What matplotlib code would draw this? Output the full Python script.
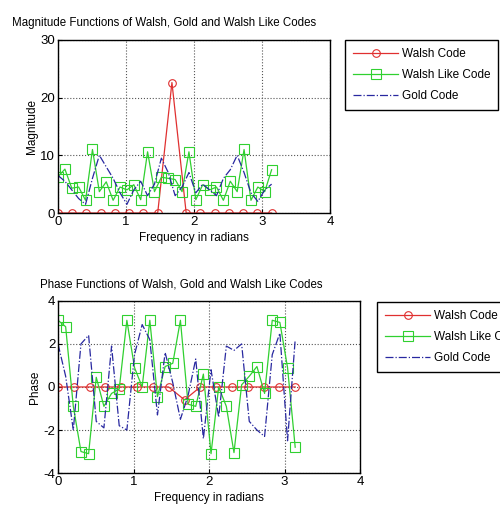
import numpy as np
import matplotlib.pyplot as plt

# ------ DATA ------

# Walsh code: 16 frequency bins, Walsh like / Gold codes: 32 bins over [0, pi]
w_freq = np.linspace(0, np.pi, 16)
c_freq = np.linspace(0, np.pi, 32)

walsh_mag = [0, 0, 0, 0, 0, 0, 0, 0, 22.6, 0, 0, 0, 0, 0, 0, 0]
walsh_like_mag = [6.3, 7.6, 4.3, 4.5, 2.2, 11.0, 3.7, 5.4, 2.2, 4.5, 4.0,
                  4.9, 2.3, 10.6, 3.7, 6.2, 6.0, 5.8, 3.7, 10.6, 2.3, 4.9,
                  4.0, 4.5, 2.2, 5.5, 3.7, 11.0, 2.2, 4.5, 3.7, 7.5]
gold_mag = [6.5, 5.5, 4.0, 2.5, 1.5, 6.0, 10.0, 8.0, 6.0, 3.5, 1.5,
            4.0, 5.5, 3.0, 5.0, 9.5, 7.0, 3.0, 4.5, 7.0, 3.5, 5.0,
            4.0, 3.0, 6.0, 7.5, 10.0, 7.0, 3.5, 2.0, 4.0, 5.0]

walsh_phase = [0, 0, 0, 0, 0, 0, 0, 0, -0.6, 0, 0, 0, 0, 0, 0, 0]
walsh_like_phase = [3.1, 2.8, -0.9, -3.0, -3.1, 0.45, -0.9, -0.3, -0.1, 3.1,
                    0.9, 0.0, 3.1, -0.45, 0.95, 1.1, 3.1, -0.8, -0.9, 0.6,
                    -3.1, 0.0, -0.9, -3.05, 0.1, 0.5, 0.95, -0.3, 3.1, 3.0,
                    0.9, -2.8]
gold_phase = [2.0, 0.5, -2.0, 2.0, 2.4, -1.6, -1.9, 1.9, -1.8, -2.0, 1.5,
              2.9, 2.2, -1.3, 1.6, 0.2, -1.5, -0.4, 1.3, -2.4, 0.8, -1.4,
              1.9, 1.7, 2.0, -1.6, -2.0, -2.3, 1.5, 2.5, -2.5, 2.2]

labels = ['Walsh Code', 'Walsh Like Code', 'Gold Code']

# ------ PLOT ------

plt.rcParams['font.family'] = ['Liberation Sans', 'DejaVu Sans']
plt.rcParams['font.size'] = 8
plt.rcParams['axes.unicode_minus'] = False

fig = plt.figure(figsize=(5.0, 5.17), dpi=100)
ax1 = fig.add_axes([0.116, 0.588, 0.544, 0.335])
ax2 = fig.add_axes([0.116, 0.085, 0.604, 0.333])


def draw(ax, walsh, like, gold):
    ax.plot(w_freq, walsh, color='#e03030', lw=0.9, marker='o', ms=5.5,
            mfc='none', mew=0.8, label=labels[0])
    ax.plot(c_freq, like, color='#30d030', lw=0.9, marker='s', ms=6.5,
            mfc='none', mew=0.8, label=labels[1])
    ax.plot(c_freq, gold, color='#2828a0', lw=0.9, ls='-.', label=labels[2])
    ax.set_xlim(0, 4)
    ax.set_xticks([0, 1, 2, 3, 4])
    ax.grid(True, ls=':', color='#555555', lw=0.8)
    ax.tick_params(direction='in', length=3, labelsize=9.5, pad=2)
    for s in ax.spines.values():
        s.set_linewidth(1.0)
    ax.set_xlabel('Frequency in radians', fontsize=8.5, labelpad=3)


def add_legend(ax, x, y):
    ax.legend(loc='upper left', bbox_to_anchor=(x, y),
              bbox_transform=fig.transFigure, frameon=True, fancybox=False,
              edgecolor='black', fontsize=8.5, handlelength=3.8,
              handletextpad=0.3, borderpad=0.7, labelspacing=0.75,
              borderaxespad=0, framealpha=1)


draw(ax1, walsh_mag, walsh_like_mag, gold_mag)
ax1.set_ylim(0, 30)
ax1.set_yticks([0, 10, 20, 30])
ax1.set_ylabel('Magnitude', fontsize=8.5, labelpad=2)
ax1.set_title('Magnitude Functions of Walsh, Gold and Walsh Like Codes',
              fontsize=8.3, loc='left', x=-0.17, pad=10)
add_legend(ax1, 0.69, 0.923)

draw(ax2, walsh_phase, walsh_like_phase, gold_phase)
ax2.set_ylim(-4, 4)
ax2.set_yticks([-4, -2, 0, 2, 4])
ax2.set_ylabel('Phase', fontsize=8.5, labelpad=2)
ax2.set_title('Phase Functions of Walsh, Gold and Walsh Like Codes',
              fontsize=8.3, loc='left', x=-0.06, pad=10)
add_legend(ax2, 0.754, 0.416)

fig.savefig('out.png', dpi=100)
